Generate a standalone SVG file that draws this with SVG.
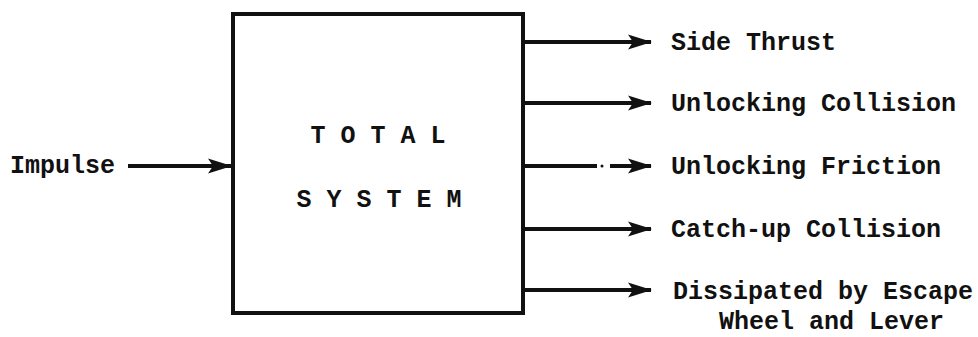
<svg xmlns="http://www.w3.org/2000/svg" width="978" height="337" viewBox="0 0 978 337">
<style>
  .t { font-family: "Liberation Mono", "Courier New", monospace; font-size: 25px; font-weight: bold; fill: #111; }
  .ln { stroke: #111; stroke-width: 4; fill: none; }
  .box { stroke: #111; stroke-width: 4; fill: #fff; }
</style>
<defs>
  <marker id="ah" markerWidth="24" markerHeight="18" refX="23" refY="9" orient="auto" markerUnits="userSpaceOnUse">
    <path d="M0,1.5 L24,9 L0,16.5 L5,9 Z" fill="#111"/>
  </marker>
</defs>
<rect width="978" height="337" fill="#fff"/>
<g id="connectors">
  <line class="ln" x1="128" y1="166" x2="231" y2="166" marker-end="url(#ah)"/>
  <line class="ln" x1="523" y1="42" x2="651" y2="42" marker-end="url(#ah)"/>
  <line class="ln" x1="523" y1="103" x2="651" y2="103" marker-end="url(#ah)"/>
  <line class="ln" x1="523" y1="166" x2="597" y2="166"/>
  <circle cx="602" cy="166" r="1.5" fill="#111"/>
  <line class="ln" x1="610" y1="166" x2="651" y2="166" marker-end="url(#ah)"/>
  <line class="ln" x1="523" y1="229" x2="651" y2="229" marker-end="url(#ah)"/>
  <line class="ln" x1="523" y1="290" x2="651" y2="290" marker-end="url(#ah)"/>
</g>
<g id="total-system">
  <rect class="box" x="233" y="14" width="290" height="299"/>
  <text class="t" x="378" y="143" text-anchor="middle" xml:space="preserve">T O T A L</text>
  <text class="t" x="379" y="207" text-anchor="middle" xml:space="preserve">S Y S T E M</text>
</g>
<g id="impulse"><text class="t" x="10" y="173">Impulse</text></g>
<g id="side-thrust"><text class="t" x="671" y="50">Side Thrust</text></g>
<g id="unlocking-collision"><text class="t" x="671" y="111">Unlocking Collision</text></g>
<g id="unlocking-friction"><text class="t" x="671" y="174">Unlocking Friction</text></g>
<g id="catch-up-collision"><text class="t" x="671" y="237">Catch-up Collision</text></g>
<g id="dissipated">
  <text class="t" x="673" y="299">Dissipated by Escape</text>
  <text class="t" x="719" y="329">Wheel and Lever</text>
</g>
</svg>
